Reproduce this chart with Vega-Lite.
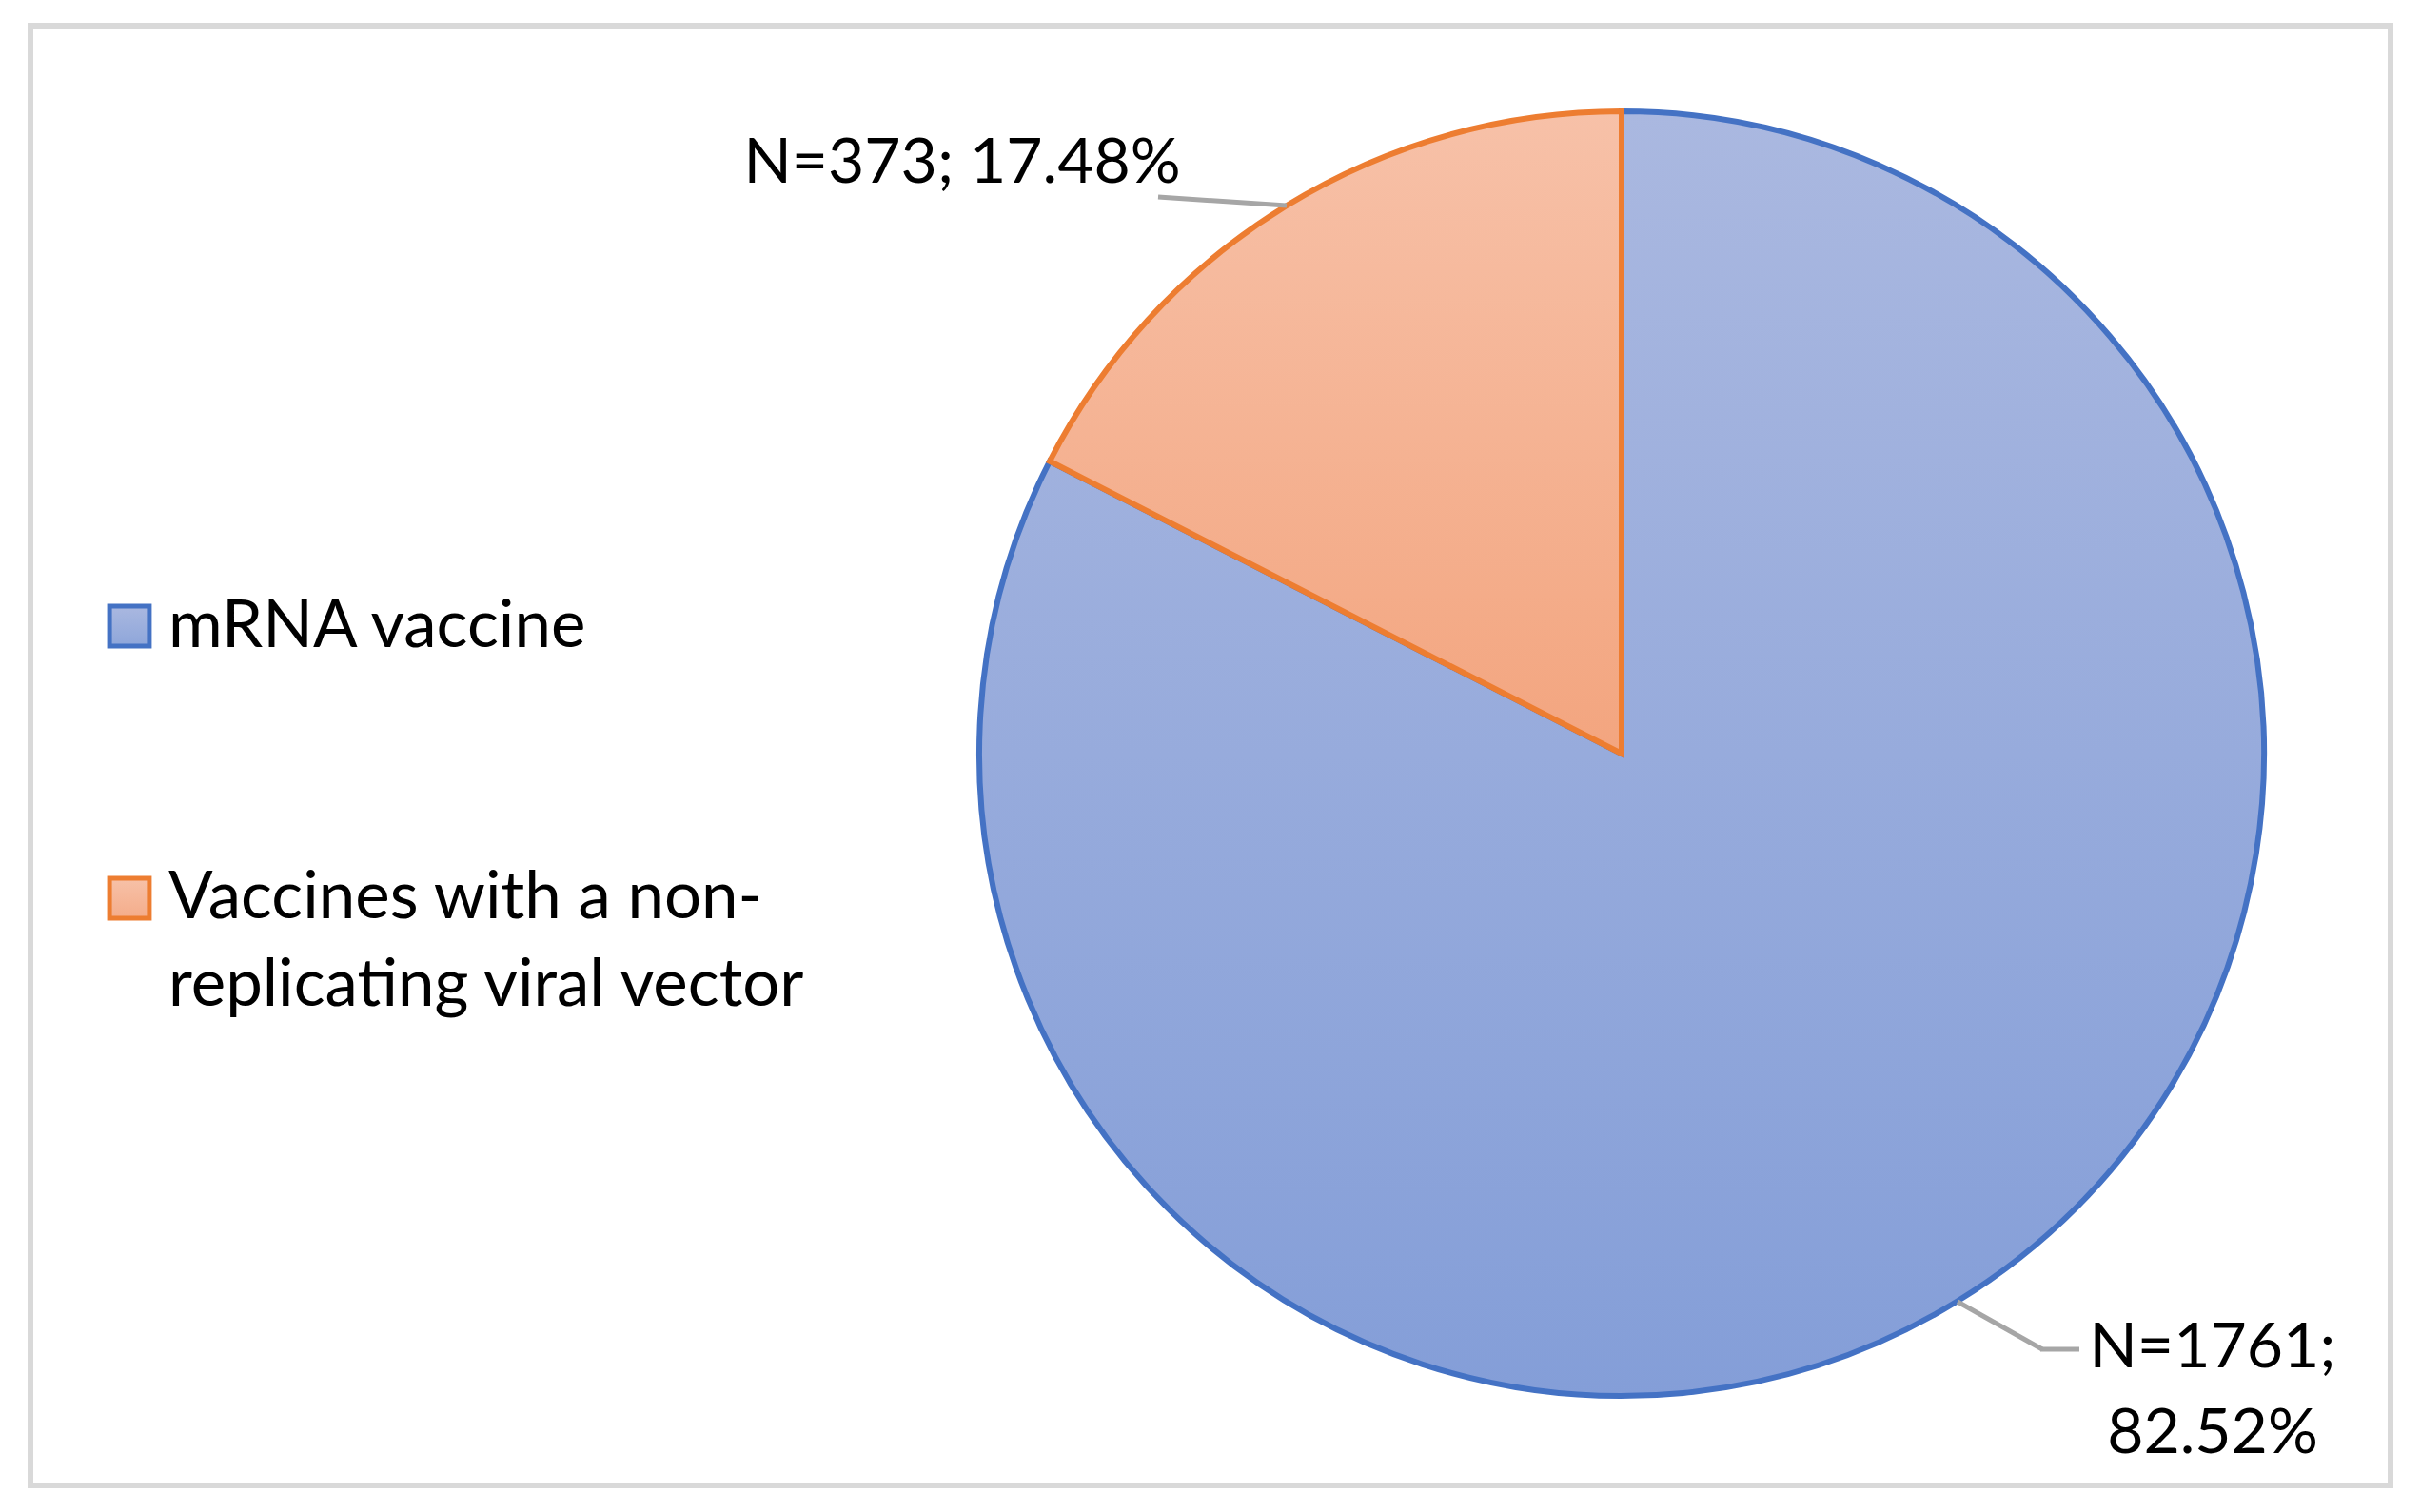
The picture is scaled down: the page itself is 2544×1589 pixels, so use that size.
{
  "$schema": "https://vega.github.io/schema/vega-lite/v6.json",
  "width": 2480,
  "height": 1534,
  "autosize": "none",
  "padding": {"left": 32, "top": 27, "right": 32, "bottom": 28},
  "background": "#ffffff",
  "config": {
    "view": {"stroke": "#d9d9d9", "strokeWidth": 6},
    "text": {"font": "Lato", "fontSize": 66, "color": "#000000"}
  },
  "data": {
    "values": [
      {"type": "mRNA vaccine", "n": 1761, "pct": 82.52, "label": "N=1761; 82.52%"},
      {"type": "Vaccines with a non-replicating viral vector", "n": 373, "pct": 17.48, "label": "N=373; 17.48%"}
    ]
  },
  "layer": [
    {
      "mark": {"type": "arc", "outerRadius": 675, "strokeWidth": 6},
      "encoding": {
        "x": {"datum": 1672, "type": "quantitative", "scale": {"domain": [0, 2480], "nice": false, "zero": false}, "axis": null},
        "y": {"datum": 765, "type": "quantitative", "scale": {"domain": [0, 1534], "nice": false, "zero": false, "reverse": true}, "axis": null},
        "theta": {"field": "n", "type": "quantitative", "stack": true},
        "order": {"field": "n", "type": "quantitative", "sort": "descending"},
        "stroke": {"field": "type", "type": "nominal", "scale": {"domain": ["mRNA vaccine", "Vaccines with a non-replicating viral vector"], "range": ["#4472c4", "#ed7d31"]}, "legend": null},
        "fill": {
          "condition": {"test": "datum.type === 'mRNA vaccine'", "value": {"gradient": "linear", "x1": 0, "y1": 0, "x2": 0, "y2": 1, "stops": [{"offset": 0, "color": "#aab8e0"}, {"offset": 1, "color": "#849ed8"}]}},
          "value": {"gradient": "linear", "x1": 0, "y1": 0, "x2": 0, "y2": 1, "stops": [{"offset": 0, "color": "#f7c1a8"}, {"offset": 1, "color": "#f3a57f"}]}
        }
      }
    },
    {
      "transform": [{"filter": "datum.type !== 'mRNA vaccine'"}],
      "mark": {"type": "rule", "color": "#a6a6a6", "strokeWidth": 5},
      "encoding": {
        "x": {"datum": 1185, "type": "quantitative", "scale": {"domain": [0, 2480], "nice": false, "zero": false}, "axis": null},
        "y": {"datum": 180, "type": "quantitative", "scale": {"domain": [0, 1534], "nice": false, "zero": false, "reverse": true}, "axis": null},
        "x2": {"datum": 1320},
        "y2": {"datum": 189}
      }
    },
    {
      "transform": [{"filter": "datum.type === 'mRNA vaccine'"}],
      "mark": {"type": "rule", "color": "#a6a6a6", "strokeWidth": 5},
      "encoding": {
        "x": {"datum": 2025, "type": "quantitative", "scale": {"domain": [0, 2480], "nice": false, "zero": false}, "axis": null},
        "y": {"datum": 1341, "type": "quantitative", "scale": {"domain": [0, 1534], "nice": false, "zero": false, "reverse": true}, "axis": null},
        "x2": {"datum": 2114},
        "y2": {"datum": 1391}
      }
    },
    {
      "transform": [{"filter": "datum.type === 'mRNA vaccine'"}],
      "mark": {"type": "rule", "color": "#a6a6a6", "strokeWidth": 5},
      "encoding": {
        "x": {"datum": 2112, "type": "quantitative", "scale": {"domain": [0, 2480], "nice": false, "zero": false}, "axis": null},
        "y": {"datum": 1391, "type": "quantitative", "scale": {"domain": [0, 1534], "nice": false, "zero": false, "reverse": true}, "axis": null},
        "x2": {"datum": 2153},
        "y2": {"datum": 1391}
      }
    },
    {
      "transform": [{"filter": "datum.type !== 'mRNA vaccine'"}],
      "mark": {"type": "text", "align": "center", "baseline": "alphabetic"},
      "encoding": {
        "x": {"datum": 979, "type": "quantitative", "scale": {"domain": [0, 2480], "nice": false, "zero": false}, "axis": null},
        "y": {"datum": 165, "type": "quantitative", "scale": {"domain": [0, 1534], "nice": false, "zero": false, "reverse": true}, "axis": null},
        "text": {"field": "label", "type": "nominal"}
      }
    },
    {
      "transform": [{"filter": "datum.type === 'mRNA vaccine'"}],
      "mark": {"type": "text", "align": "center", "baseline": "alphabetic", "lineBreak": " ", "lineHeight": 90},
      "encoding": {
        "x": {"datum": 2293, "type": "quantitative", "scale": {"domain": [0, 2480], "nice": false, "zero": false}, "axis": null},
        "y": {"datum": 1410, "type": "quantitative", "scale": {"domain": [0, 1534], "nice": false, "zero": false, "reverse": true}, "axis": null},
        "text": {"field": "label", "type": "nominal"}
      }
    },
    {
      "transform": [{"filter": "datum.type === 'mRNA vaccine'"}],
      "mark": {"type": "point", "shape": "square", "filled": true, "size": 1750, "strokeWidth": 5, "opacity": 1},
      "encoding": {
        "x": {"datum": 104, "type": "quantitative", "scale": {"domain": [0, 2480], "nice": false, "zero": false}, "axis": null},
        "y": {"datum": 631, "type": "quantitative", "scale": {"domain": [0, 1534], "nice": false, "zero": false, "reverse": true}, "axis": null},
        "fill": {"value": {"gradient": "linear", "x1": 0, "y1": 0, "x2": 0, "y2": 1, "stops": [{"offset": 0, "color": "#aab8e0"}, {"offset": 1, "color": "#8ea6da"}]}},
        "stroke": {"value": "#4472c4"}
      }
    },
    {
      "transform": [{"filter": "datum.type !== 'mRNA vaccine'"}],
      "mark": {"type": "point", "shape": "square", "filled": true, "size": 1750, "strokeWidth": 5, "opacity": 1},
      "encoding": {
        "x": {"datum": 104, "type": "quantitative", "scale": {"domain": [0, 2480], "nice": false, "zero": false}, "axis": null},
        "y": {"datum": 917, "type": "quantitative", "scale": {"domain": [0, 1534], "nice": false, "zero": false, "reverse": true}, "axis": null},
        "fill": {"value": {"gradient": "linear", "x1": 0, "y1": 0, "x2": 0, "y2": 1, "stops": [{"offset": 0, "color": "#f7c1a8"}, {"offset": 1, "color": "#f4ac8a"}]}},
        "stroke": {"value": "#ed7d31"}
      }
    },
    {
      "transform": [{"filter": "datum.type === 'mRNA vaccine'"}],
      "mark": {"type": "text", "align": "left", "baseline": "alphabetic", "fontSize": 69},
      "encoding": {
        "x": {"datum": 145, "type": "quantitative", "scale": {"domain": [0, 2480], "nice": false, "zero": false}, "axis": null},
        "y": {"datum": 653, "type": "quantitative", "scale": {"domain": [0, 1534], "nice": false, "zero": false, "reverse": true}, "axis": null},
        "text": {"field": "type", "type": "nominal"}
      }
    },
    {
      "transform": [{"filter": "datum.type !== 'mRNA vaccine'"}],
      "mark": {"type": "text", "align": "left", "baseline": "alphabetic", "lineHeight": 92, "fontSize": 69},
      "encoding": {
        "x": {"datum": 145, "type": "quantitative", "scale": {"domain": [0, 2480], "nice": false, "zero": false}, "axis": null},
        "y": {"datum": 938, "type": "quantitative", "scale": {"domain": [0, 1534], "nice": false, "zero": false, "reverse": true}, "axis": null},
        "text": {"value": ["Vaccines with a non-", "replicating viral vector"]}
      }
    }
  ]
}
